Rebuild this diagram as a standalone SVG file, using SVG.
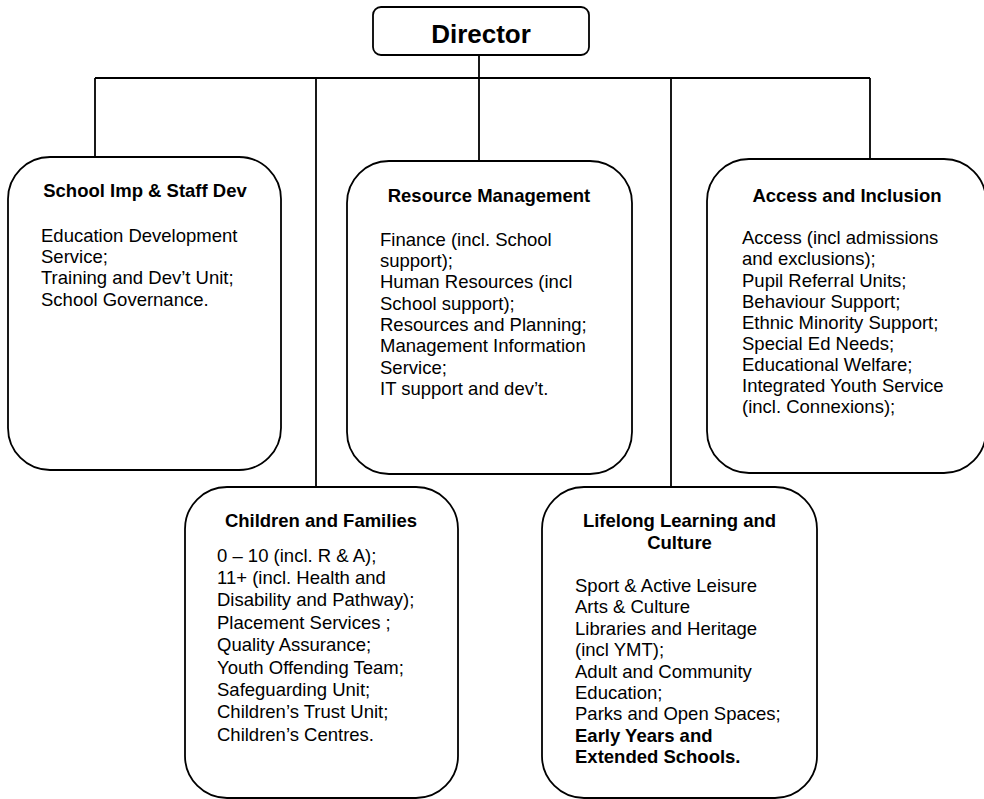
<svg xmlns="http://www.w3.org/2000/svg" width="984" height="799" viewBox="0 0 984 799">
<style>
.box{fill:#fff;stroke:#000;stroke-width:1.8}
.ln{stroke:#000;stroke-width:1.8;fill:none}
text{font-family:"Liberation Sans",Arial,sans-serif;fill:#000}
.t{font-size:18.5px;font-weight:bold;text-anchor:middle}
.b{font-size:18.5px}
.bb{font-weight:bold}
</style>
<rect width="984" height="799" fill="#fff"/>
<g id="connectors">
<line class="ln" x1="95" y1="78" x2="870" y2="78"/>
<line class="ln" x1="479" y1="55" x2="479" y2="161"/>
<line class="ln" x1="95" y1="78" x2="95" y2="157"/>
<line class="ln" x1="316" y1="78" x2="316" y2="487"/>
<line class="ln" x1="671" y1="78" x2="671" y2="487"/>
<line class="ln" x1="870" y1="78" x2="870" y2="159"/>
</g>
<g id="director">
<rect class="box" x="373" y="7" width="216" height="48" rx="8"/>
<text x="481" y="43" style="font-size:26px;font-weight:bold;text-anchor:middle">Director</text>
</g>
<g id="school-imp">
<rect class="box" x="8" y="157" width="273" height="313" rx="42"/>
<text class="t" x="145" y="197">School Imp &amp; Staff Dev</text>
<text class="b" x="41" y="242">Education Development<tspan x="41" dy="21.2">Service;</tspan><tspan x="41" dy="21.2">Training and Dev’t Unit;</tspan><tspan x="41" dy="21.2">School Governance.</tspan></text>
</g>
<g id="resource-management">
<rect class="box" x="347" y="161" width="285" height="313" rx="42"/>
<text class="t" x="489" y="202">Resource Management</text>
<text class="b" x="380" y="245.7">Finance (incl. School<tspan x="380" dy="21.3">support);</tspan><tspan x="380" dy="21.3">Human Resources (incl</tspan><tspan x="380" dy="21.3">School support);</tspan><tspan x="380" dy="21.3">Resources and Planning;</tspan><tspan x="380" dy="21.3">Management Information</tspan><tspan x="380" dy="21.3">Service;</tspan><tspan x="380" dy="21.3">IT support and dev’t.</tspan></text>
</g>
<g id="access-inclusion">
<rect class="box" x="707" y="159" width="279" height="314" rx="42"/>
<text class="t" x="847" y="201.7">Access and Inclusion</text>
<text class="b" x="742" y="244.3">Access (incl admissions<tspan x="742" dy="21.1">and exclusions);</tspan><tspan x="742" dy="21.1">Pupil Referral Units;</tspan><tspan x="742" dy="21.1">Behaviour Support;</tspan><tspan x="742" dy="21.1">Ethnic Minority Support;</tspan><tspan x="742" dy="21.1">Special Ed Needs;</tspan><tspan x="742" dy="21.1">Educational Welfare;</tspan><tspan x="742" dy="21.1">Integrated Youth Service</tspan><tspan x="742" dy="21.1">(incl. Connexions);</tspan></text>
</g>
<g id="children-families">
<rect class="box" x="185" y="487" width="273" height="311" rx="42"/>
<text class="t" x="321" y="527">Children and Families</text>
<text class="b" x="217" y="561.5">0 – 10 (incl. R &amp; A);<tspan x="217" dy="22.4">11+ (incl. Health and</tspan><tspan x="217" dy="22.4">Disability and Pathway);</tspan><tspan x="217" dy="22.4">Placement Services ;</tspan><tspan x="217" dy="22.4">Quality Assurance;</tspan><tspan x="217" dy="22.4">Youth Offending Team;</tspan><tspan x="217" dy="22.4">Safeguarding Unit;</tspan><tspan x="217" dy="22.4">Children’s Trust Unit;</tspan><tspan x="217" dy="22.4">Children’s Centres.</tspan></text>
</g>
<g id="lifelong-learning">
<rect class="box" x="542" y="487" width="275" height="311" rx="42"/>
<text class="t" x="679.5" y="527.3">Lifelong Learning and<tspan x="679.5" dy="21.7">Culture</tspan></text>
<text class="b" x="575" y="591.7">Sport &amp; Active Leisure<tspan x="575" dy="21.45">Arts &amp; Culture</tspan><tspan x="575" dy="21.45">Libraries and Heritage</tspan><tspan x="575" dy="21.45">(incl YMT);</tspan><tspan x="575" dy="21.45">Adult and Community</tspan><tspan x="575" dy="21.45">Education;</tspan><tspan x="575" dy="21.45">Parks and Open Spaces;</tspan><tspan class="bb" x="575" dy="21.45">Early Years and</tspan><tspan class="bb" x="575" dy="21.45">Extended Schools.</tspan></text>
</g>
</svg>
